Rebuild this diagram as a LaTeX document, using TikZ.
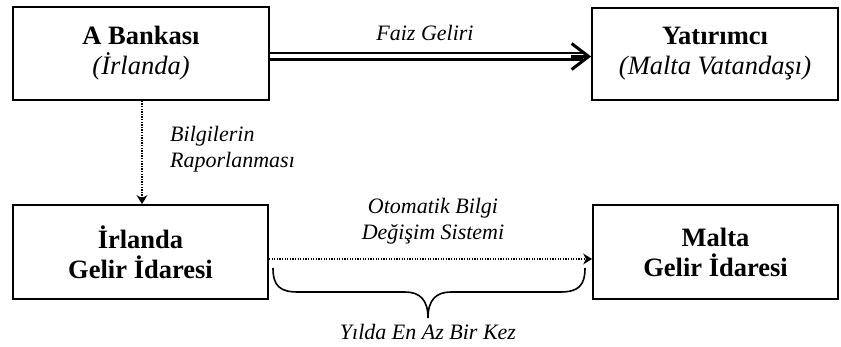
\documentclass[tikz,border=0pt]{standalone}
\usepackage{fontspec}
\setmainfont{Liberation Serif}
\usetikzlibrary{arrows.meta,calc}
\begin{document}
\begin{tikzpicture}[x=1pt,y=-1pt,
  box/.style={draw, line width=1.8pt, inner sep=0pt, align=center,
    font=\fontsize{26.5}{30}\selectfont},
  lbl/.style={font=\fontsize{22}{26}\selectfont\itshape, align=center, inner sep=0pt},
  dotline/.style={line width=1.3pt, dash pattern=on 1.3pt off 1.3pt,
    -{Stealth[length=9pt,width=11pt,line width=0pt]}}]
\useasboundingbox (0,0) rectangle (841,347);
% boxes
\node[box, minimum width=256pt, minimum height=93pt] (A) at (141,53.5)
  {\textbf{A Bankası}\\\textit{(İrlanda)}};
\node[box, minimum width=246pt, minimum height=92pt] (Y) at (715,54)
  {\textbf{Yatırımcı}\\\textit{(Malta Vatandaşı)}};
\node[box, minimum width=255pt, minimum height=94pt] (I) at (140.5,252)
  {\textbf{İrlanda}\\\textbf{Gelir İdaresi}};
\node[box, minimum width=245pt, minimum height=94pt] (M) at (715.5,252)
  {\textbf{Malta}\\\textbf{Gelir İdaresi}};
% double arrow
\coordinate (dA) at ($(A.east)+(0,3)$);
\coordinate (dY) at ($(Y.west)+(0,2.5)$);
\draw[line width=2.6pt, double, double distance=4pt] (dA) -- ($(dY)+(-8,0)$);
\draw[line width=3pt, -{Straight Barb[length=17pt,width=26pt,line width=3pt]}]
  ($(dY)+(-20,0)$) -- (dY);
\node[lbl] (faiz) at (425,33) {Faiz Geliri};
% vertical dotted
\draw[dotline] ($(A.south)+(1,0)$) -- ($(A.south |- I.north)+(1,0)$);
\node[lbl, anchor=west, align=left] (bil) at (170,149) {Bilgilerin\\Raporlanması};
% horizontal dotted
\draw[dotline] ($(I.east)+(0,7)$) -- ($(M.west)+(0,7)$);
\node[lbl] (oto) at (433,221) {Otomatik Bilgi\\Değişim Sistemi};
% brace
\draw[line width=1.6pt]
  (273,268) .. controls (273,286) and (280,292) .. (298,292)
  -- (405,292) .. controls (420,292) and (428,300) .. (428,318)
  .. controls (428,300) and (436,292) .. (451,292)
  -- (560,292) .. controls (578,292) and (585,286) .. (585,268);
\node[lbl] (yil) at (428,332) {Yılda En Az Bir Kez};
\end{tikzpicture}
\end{document}
